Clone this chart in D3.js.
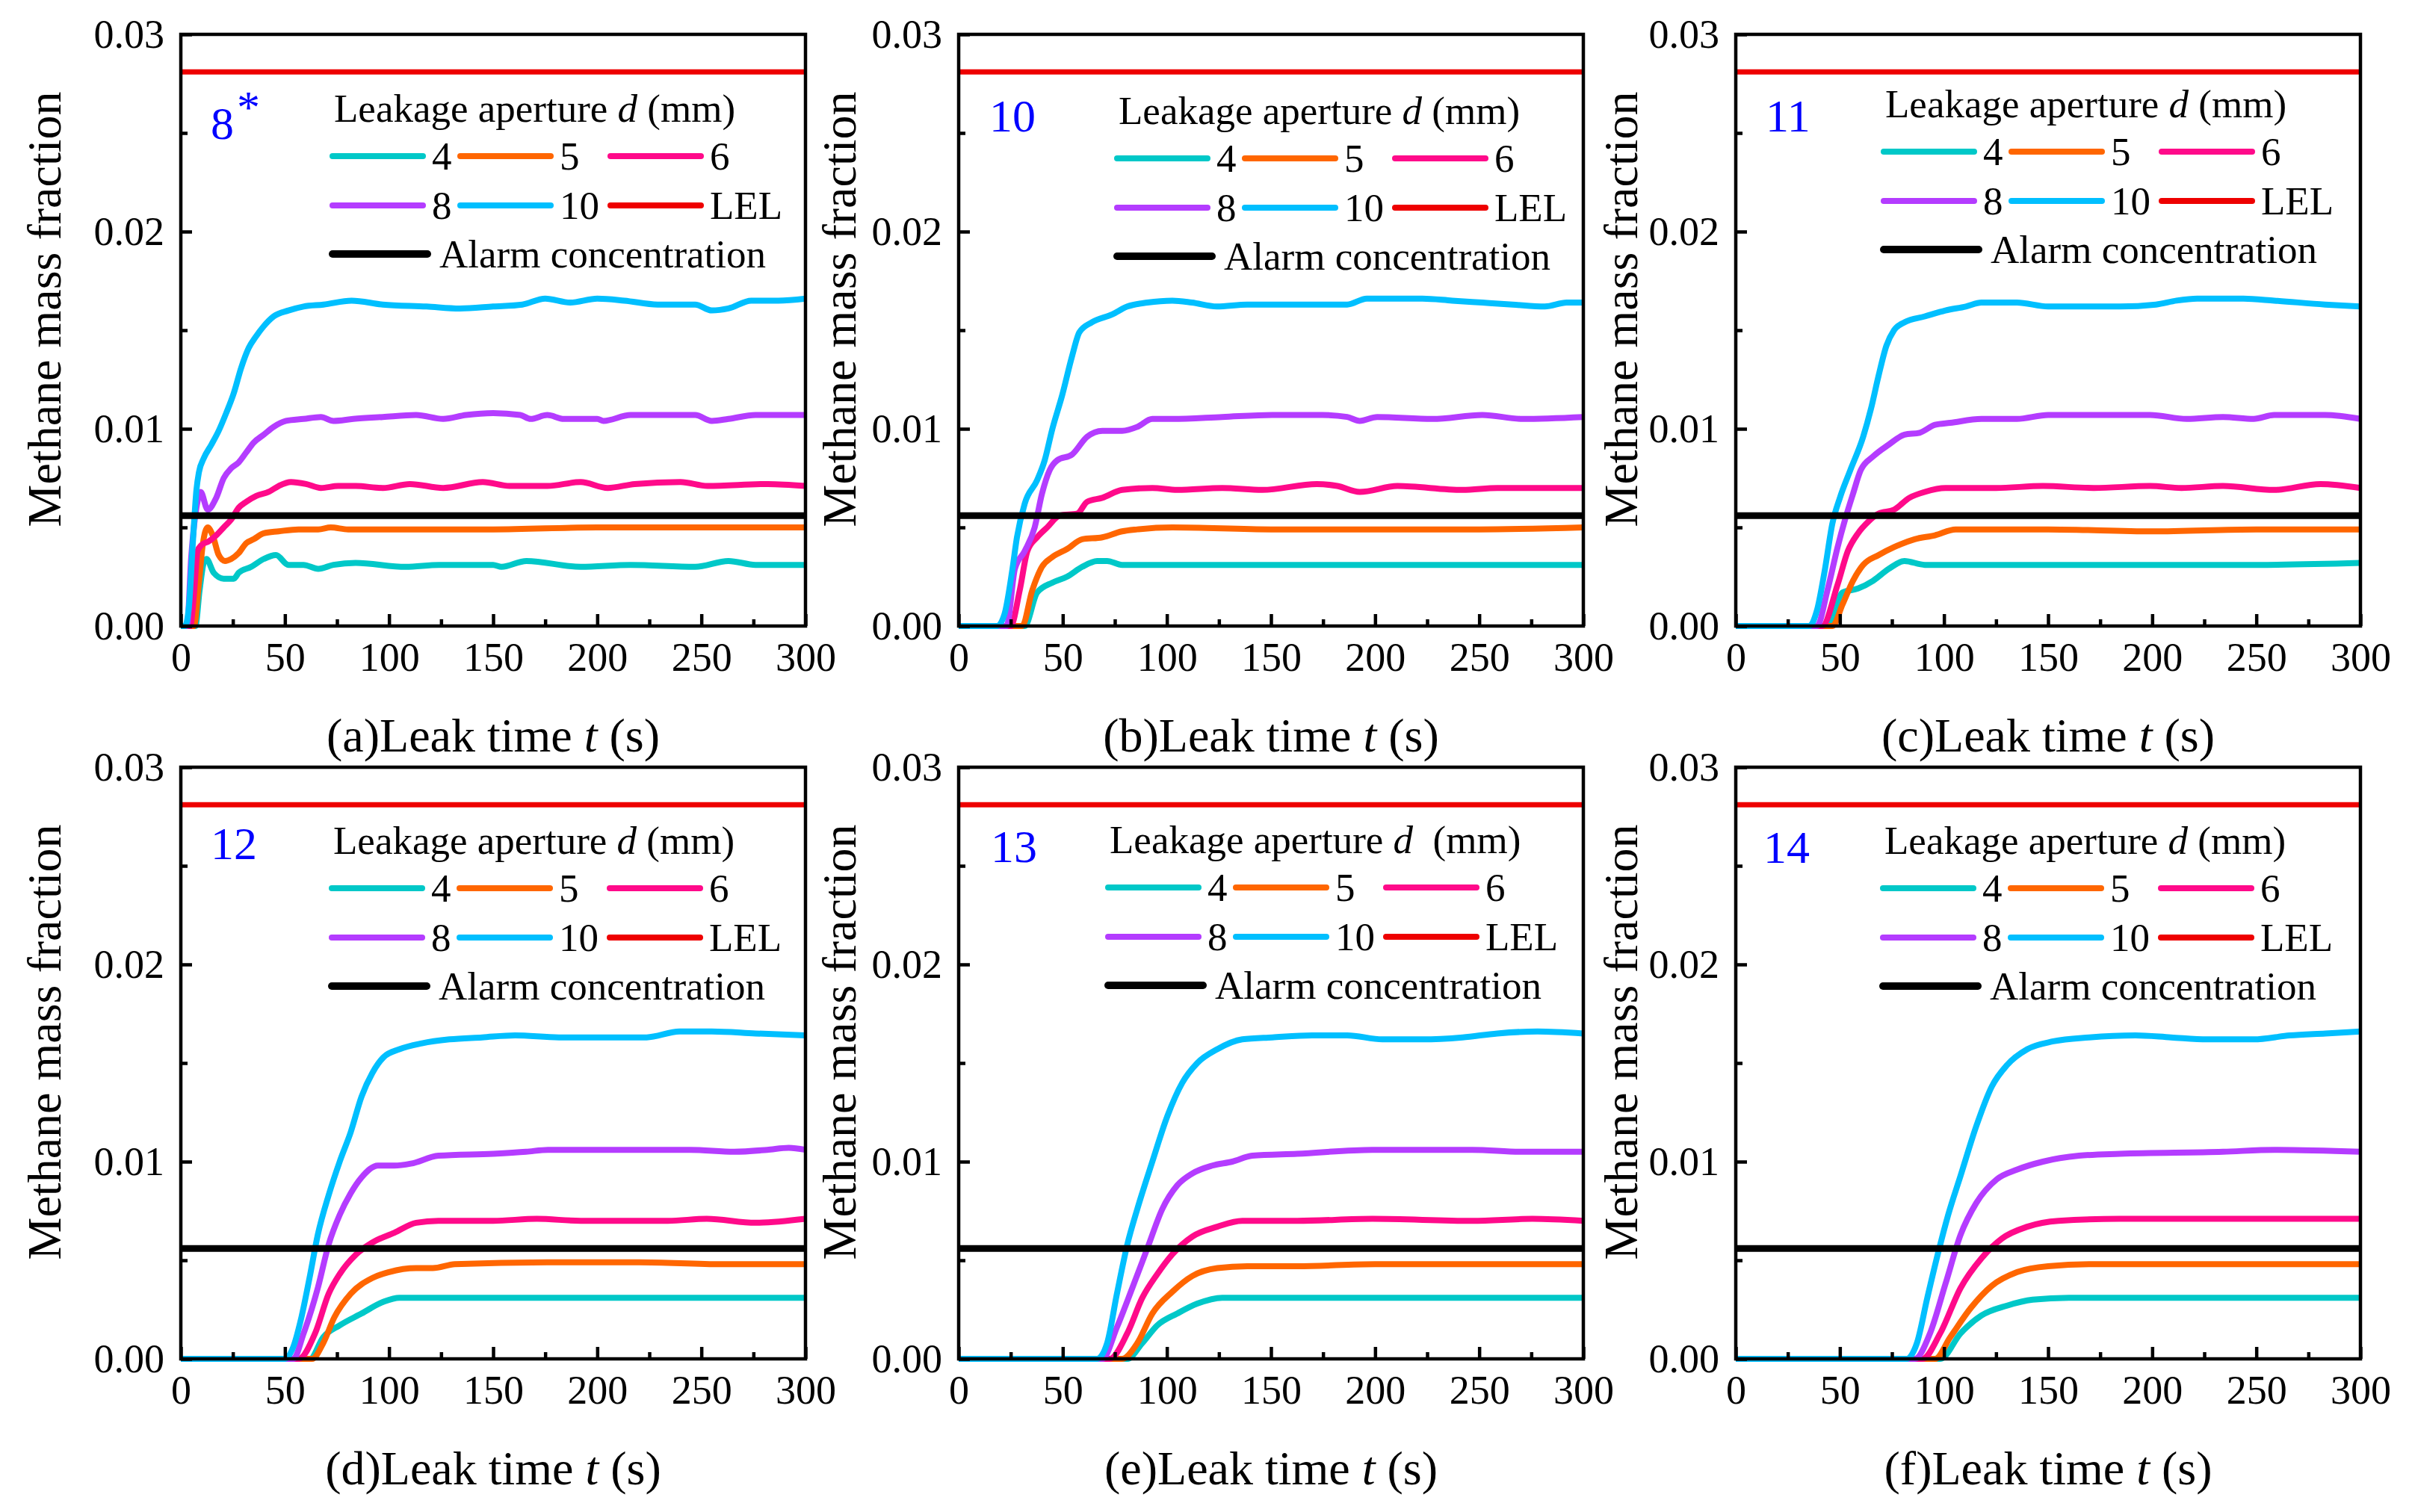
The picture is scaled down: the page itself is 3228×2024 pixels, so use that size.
<!DOCTYPE html>
<html lang="en">
<head>
<meta charset="utf-8">
<title>Methane mass fraction vs leak time</title>
<script src="https://cdn.jsdelivr.net/npm/d3@7/dist/d3.min.js"></script>
<style>
  body { margin: 0; background: #fff; }
  svg text { font-family: "Liberation Serif", "Times New Roman", serif; fill: #000; }
</style>
</head>
<body>
<svg id="vis" width="3228" height="2024"></svg>
<script>
// ---- data: [leak time (s), methane mass fraction] ----
// panel (a)
var a10 = [[0,0],[2,0],[3.9,0.0010],[5.7,0.0041],[7.5,0.0069],[8.7,0.0078],[11,0.0085],[14.7,0.0092],[18.2,0.0099],[21.8,0.0108],[25.4,0.0118],[29,0.0131],[32.6,0.0141],[36.2,0.0147],[39.8,0.0152],[44.6,0.0157],[51.7,0.0160],[58.9,0.0162],[68.5,0.0163],[82,0.0165],[97,0.0163],[118,0.0162],[134,0.0161],[150,0.0162],[164,0.0163],[175,0.0166],[187,0.0164],[200,0.0166],[213,0.0165],[229,0.0163],[247,0.0163],[255,0.0160],[263,0.0161],[274,0.0165],[287,0.0165],[300,0.0166]];
var a8 = [[0,0],[3,0],[5,0.0035],[8,0.0063],[9.5,0.0068],[12.9,0.0059],[17,0.0065],[20.6,0.0075],[24.2,0.0080],[27.8,0.0083],[31.4,0.0088],[35,0.0093],[39.8,0.0097],[44.6,0.0101],[50.5,0.0104],[58.9,0.0105],[67.3,0.0106],[73.3,0.0104],[82.8,0.0105],[97,0.0106],[113,0.0107],[126,0.0105],[137,0.0107],[150,0.0108],[163,0.0107],[168,0.0105],[176,0.0107],[184,0.0105],[200,0.0105],[203,0.0104],[216,0.0107],[234,0.0107],[247,0.0107],[255,0.0104],[263,0.0105],[276,0.0107],[300,0.0107]];
var a6 = [[0,0],[4.5,0],[6.3,0.0016],[8,0.0038],[9.9,0.0041],[13.5,0.0043],[17,0.0046],[20.6,0.0050],[24.2,0.0054],[27.8,0.0060],[31.4,0.0063],[36.2,0.0066],[42.2,0.0068],[47,0.0071],[52.9,0.0073],[60.1,0.0072],[67.3,0.0070],[75.6,0.0071],[84,0.0071],[97,0.0070],[110,0.0072],[126,0.0070],[145,0.0073],[158,0.0071],[176,0.0071],[192,0.0073],[205,0.0070],[218,0.0072],[240,0.0073],[253,0.0071],[282,0.0072],[300,0.0071]];
var a5 = [[0,0],[6.3,0],[8.7,0.0022],[10.5,0.0041],[12.9,0.0050],[15.3,0.0046],[18.2,0.0036],[21.2,0.0033],[24.2,0.0034],[27.8,0.0037],[31.4,0.0042],[35,0.0044],[39.8,0.0047],[47,0.0048],[56.5,0.0049],[66,0.0049],[72,0.0050],[80.4,0.0049],[100,0.0049],[150,0.0049],[200,0.0050],[250,0.0050],[300,0.0050]];
var a4 = [[0,0],[7,0],[9,0.0018],[11,0.0032],[12.3,0.0034],[15.8,0.0027],[20.6,0.0024],[25.4,0.0024],[27.8,0.0027],[33.8,0.0030],[39.8,0.0034],[45.7,0.0036],[51.7,0.0031],[58.9,0.0031],[66,0.0029],[73.3,0.0031],[84,0.0032],[108,0.0030],[124,0.0031],[150,0.0031],[154,0.0030],[166,0.0033],[192,0.0030],[216,0.0031],[247,0.0030],[263,0.0033],[276,0.0031],[300,0.0031]];
// panel (b)
var b10 = [[0,0],[18.5,0],[22,0.0006],[25.7,0.0028],[28,0.0045],[31.7,0.0062],[37.7,0.0074],[41.3,0.0084],[45,0.0100],[49.7,0.0117],[54.5,0.0137],[58,0.0149],[64,0.0154],[73.7,0.0158],[81,0.0162],[90.6,0.0164],[102.6,0.0165],[112,0.0164],[124,0.0162],[138.6,0.0163],[162.6,0.0163],[186.6,0.0163],[196,0.0166],[222.7,0.0166],[237,0.0165],[251.5,0.0164],[266,0.0163],[281.5,0.0162],[292,0.0164],[300,0.0164]];
var b8 = [[0,0],[23,0],[27,0.0029],[31.7,0.0038],[36.5,0.0050],[40,0.0067],[43.7,0.0079],[47.3,0.0084],[54.5,0.0087],[61.7,0.0096],[69,0.0099],[78.5,0.0099],[85.8,0.0101],[93,0.0105],[102.6,0.0105],[126.6,0.0106],[150.6,0.0107],[174.6,0.0107],[186.6,0.0106],[192.6,0.0104],[201,0.0106],[227.5,0.0105],[251.5,0.0107],[270.7,0.0105],[300,0.0106]];
var b6 = [[0,0],[25,0],[29.3,0.0018],[33,0.0038],[37.7,0.0045],[42.5,0.0050],[48.5,0.0056],[57,0.0057],[61.7,0.0063],[69,0.0065],[78.5,0.0069],[93,0.0070],[105,0.0069],[126.6,0.0070],[145.8,0.0069],[172,0.0072],[181.8,0.0071],[192.6,0.0068],[210.7,0.0071],[242,0.0069],[258.7,0.0070],[300,0.0070]];
var b5 = [[0,0],[30.5,0],[35.3,0.0018],[40,0.0030],[45,0.0035],[52,0.0039],[59.3,0.0044],[69,0.0045],[78.5,0.0048],[85.8,0.0049],[102.6,0.0050],[150,0.0049],[200,0.0049],[250,0.0049],[300,0.0050]];
var b4 = [[0,0],[31.7,0],[37.7,0.0017],[45,0.0022],[52,0.0025],[59.3,0.0030],[66.5,0.0033],[71.3,0.0033],[78.5,0.0031],[102.6,0.0031],[150,0.0031],[200,0.0031],[250,0.0031],[300,0.0031]];
// panel (c)
var c10 = [[0,0],[35.3,0],[39,0.0008],[42.7,0.0028],[46.4,0.0052],[50,0.0065],[55,0.0079],[61.2,0.0096],[64.9,0.0110],[68.6,0.0127],[72.3,0.0142],[76,0.0150],[81,0.0154],[90.8,0.0157],[100.7,0.0160],[110.5,0.0162],[118,0.0164],[135,0.0164],[150,0.0162],[184.5,0.0162],[201.8,0.0163],[211.7,0.0165],[221.6,0.0166],[243.8,0.0166],[258.6,0.0165],[283,0.0163],[300,0.0162]];
var c8 = [[0,0],[39,0],[44,0.0018],[48.9,0.0040],[52.5,0.0054],[56.3,0.0067],[60,0.0079],[66,0.0086],[73.5,0.0092],[81,0.0097],[88.3,0.0098],[95.7,0.0102],[103,0.0103],[118,0.0105],[135,0.0105],[150,0.0107],[184.5,0.0107],[199,0.0107],[216.6,0.0105],[234,0.0106],[248.7,0.0105],[258.6,0.0107],[283,0.0107],[300,0.0105]];
var c6 = [[0,0],[41.5,0],[48.9,0.0021],[53.8,0.0038],[58.7,0.0047],[63.7,0.0053],[68.6,0.0057],[76,0.0059],[83.4,0.0065],[90.8,0.0068],[100.7,0.0070],[125,0.0070],[147.5,0.0071],[172,0.0070],[199,0.0071],[214,0.0070],[234,0.0071],[258.6,0.0069],[280.8,0.0072],[300,0.0070]];
var c5 = [[0,0],[46.4,0],[51.3,0.0011],[56.3,0.0023],[61.2,0.0031],[68.6,0.0036],[76,0.0040],[85.9,0.0044],[95.7,0.0046],[105.6,0.0049],[150,0.0049],[200,0.0048],[250,0.0049],[300,0.0049]];
var c4 = [[0,0],[44,0],[51.3,0.0017],[58.7,0.0019],[66,0.0023],[73.5,0.0029],[81,0.0033],[90.8,0.0031],[150,0.0031],[200,0.0031],[250,0.0031],[300,0.0032]];
// panel (d)
var d10 = [[0,0],[50,0],[54,0.0006],[57.9,0.0021],[61.8,0.0041],[65.8,0.0063],[71,0.0083],[76.3,0.0100],[81.6,0.0115],[86.8,0.0133],[92,0.0145],[97.4,0.0153],[105,0.0157],[115.8,0.0160],[129,0.0162],[144.7,0.0163],[160.5,0.0164],[181.6,0.0163],[202.6,0.0163],[223.7,0.0163],[239.5,0.0166],[255,0.0166],[276,0.0165],[300,0.0164]];
var d8 = [[0,0],[54,0],[59,0.0013],[65.8,0.0036],[71,0.0058],[76.3,0.0073],[81.6,0.0084],[86.8,0.0092],[94.7,0.0098],[102.6,0.0098],[110.5,0.0099],[123.7,0.0103],[150,0.0104],[165.8,0.0105],[176.3,0.0106],[202.6,0.0106],[229,0.0106],[244.7,0.0106],[265.8,0.0105],[281.6,0.0106],[292,0.0107],[300,0.0106]];
var d6 = [[0,0],[56.6,0],[64.5,0.0013],[71,0.0033],[76.3,0.0043],[84.2,0.0053],[92,0.0059],[102.6,0.0064],[113,0.0069],[123.7,0.0070],[150,0.0070],[171,0.0071],[192,0.0070],[215.8,0.0070],[234,0.0070],[252.6,0.0071],[276,0.0069],[300,0.0071]];
var d5 = [[0,0],[63,0],[68.4,0.0008],[73.7,0.0021],[81.6,0.0033],[92,0.0041],[100,0.0044],[113,0.0046],[121,0.0046],[131.6,0.0048],[176,0.0049],[220,0.0049],[260,0.0048],[300,0.0048]];
var d4 = [[0,0],[62,0],[68.4,0.0011],[76.3,0.0017],[86.8,0.0023],[97.4,0.0029],[105,0.0031],[123.7,0.0031],[150,0.0031],[200,0.0031],[250,0.0031],[300,0.0031]];
// panel (e)
var e10 = [[0,0],[66.5,0],[71.3,0.0008],[76,0.0033],[81,0.0058],[85.8,0.0076],[93,0.0100],[100.2,0.0123],[107.4,0.0140],[114.6,0.0150],[124.2,0.0157],[136.2,0.0162],[150.6,0.0163],[169.8,0.0164],[186.6,0.0164],[203.5,0.0162],[222.7,0.0162],[242,0.0163],[258.7,0.0165],[278,0.0166],[300,0.0165]];
var e8 = [[0,0],[69,0],[76,0.0016],[83.4,0.0036],[90.6,0.0056],[97.8,0.0076],[105,0.0088],[112.2,0.0094],[121.8,0.0098],[131.4,0.0100],[141,0.0103],[162.6,0.0104],[198.7,0.0106],[246.7,0.0106],[270.7,0.0105],[300,0.0105]];
var e6 = [[0,0],[72.5,0],[81,0.0013],[88.2,0.0031],[95.4,0.0043],[102.6,0.0053],[112.2,0.0062],[124.2,0.0067],[136.2,0.0070],[162.6,0.0070],[198.7,0.0071],[246.7,0.0070],[275.5,0.0071],[300,0.0070]];
var e5 = [[0,0],[78.5,0],[85.8,0.0008],[93,0.0023],[102.6,0.0034],[112.2,0.0042],[124.2,0.0046],[138.6,0.0047],[162.6,0.0047],[200,0.0048],[250,0.0048],[300,0.0048]];
var e4 = [[0,0],[81,0],[88.2,0.0008],[95.4,0.0017],[105,0.0023],[114.6,0.0028],[126.6,0.0031],[150.6,0.0031],[200,0.0031],[250,0.0031],[300,0.0031]];
// panel (f)
var f10 = [[0,0],[82,0],[87,0.0008],[92,0.0031],[97,0.0053],[102,0.0073],[108,0.0093],[115.5,0.0118],[122.9,0.0138],[130.3,0.0149],[140,0.0157],[152.5,0.0161],[169.7,0.0163],[192,0.0164],[209,0.0163],[226.5,0.0162],[248.7,0.0162],[266,0.0164],[283.2,0.0165],[300,0.0166]];
var f8 = [[0,0],[86,0],[93.3,0.0013],[100.7,0.0038],[108,0.0063],[115.5,0.0079],[125.3,0.0091],[135.2,0.0096],[147.5,0.0100],[164.8,0.0103],[184.5,0.0104],[234,0.0105],[258.6,0.0106],[300,0.0105]];
var f6 = [[0,0],[89.6,0],[98.2,0.0013],[108,0.0036],[118,0.0051],[127.8,0.0061],[140,0.0067],[155,0.0070],[184.5,0.0071],[221.6,0.0071],[258.6,0.0071],[300,0.0071]];
var f5 = [[0,0],[95.7,0],[103,0.0011],[113,0.0026],[122.9,0.0037],[135.2,0.0044],[150,0.0047],[172,0.0048],[220,0.0048],[260,0.0048],[300,0.0048]];
var f4 = [[0,0],[98.2,0],[108,0.0013],[118,0.0022],[130.3,0.0027],[142.6,0.0030],[160,0.0031],[200,0.0031],[250,0.0031],[300,0.0031]];

var apertures = ["4", "5", "6", "8", "10"];
var panelLetters = ["a", "b", "c", "d", "e", "f"];
var panelTags = ["8", "10", "11", "12", "13", "14"];
var tagStar = [true, false, false, false, false, false];
var xTicks = [0, 50, 100, 150, 200, 250, 300];
var xMinor = [25, 75, 125, 175, 225, 275];
var yTicks = [0, 0.01, 0.02, 0.03];
var yMinor = [0.005, 0.015, 0.025];
var LEL = 0.0281;
var ALARM = 0.0056;

var series = [
  [a4, a5, a6, a8, a10],
  [b4, b5, b6, b8, b10],
  [c4, c5, c6, c8, c10],
  [d4, d5, d6, d8, d10],
  [e4, e5, e6, e8, e10],
  [f4, f5, f6, f8, f10]
];

// ---- styling / layout ----
var colors = ["#00C8C8", "#FF6600", "#FF0A8A", "#B43CFF", "#00BFFF"];
var lelColor = "#EE0000";
var W = 836, H = 792;
var colX = [242, 1283, 2323];
var rowY = [46, 1027];
var yTitleDx = [-161, -138, -132];
// tag position and legend origin, relative to each plot's top-left corner
var tagPos = [[40, 140], [41, 130], [40, 130], [40, 123], [43, 127], [37, 128]];
var legPos = [[203, 117], [212, 120], [198, 111], [202, 116], [200, 115], [197, 116]];
var legRows = [46, 112, 177];
var legCols = [0, 171, 372];
var legLine = 121;

var FONT = '"Liberation Serif", "Times New Roman", serif';
var svg = d3.select("#vis");
svg.append("rect").attr("width", 3228).attr("height", 2024).attr("fill", "#fff");

var x = d3.scaleLinear().domain([0, 300]).range([0, W]);
var y = d3.scaleLinear().domain([0, 0.03]).range([H, 0]);
var line = d3.line()
  .x(function(d) { return x(d[0]); })
  .y(function(d) { return y(d[1]); })
  .curve(d3.curveMonotoneX);

function styleAxis(sel, fs) {
  sel.attr("font-family", FONT).attr("font-size", fs);
  sel.select(".domain").remove();
  sel.selectAll(".tick line").attr("stroke", "#000").attr("stroke-width", 4.5);
  sel.selectAll(".tick text").attr("fill", "#000");
}

for (var p = 0; p < 6; p++) {
  var col = p % 3, row = Math.floor(p / 3);
  var g = svg.append("g").attr("transform", "translate(" + colX[col] + "," + rowY[row] + ")");

  // curves
  var gLines = g.append("g");
  for (var s = 0; s < apertures.length; s++) {
    gLines.append("path")
      .attr("d", line(series[p][s]))
      .attr("fill", "none")
      .attr("stroke", colors[s])
      .attr("stroke-width", 8)
      .attr("stroke-linejoin", "round");
  }
  // LEL and alarm levels
  g.append("line").attr("x1", 0).attr("x2", W).attr("y1", y(LEL)).attr("y2", y(LEL))
    .attr("stroke", lelColor).attr("stroke-width", 7);
  g.append("line").attr("x1", 0).attr("x2", W).attr("y1", y(ALARM)).attr("y2", y(ALARM))
    .attr("stroke", "#000").attr("stroke-width", 9);

  // axes, ticks inward
  var gx = g.append("g").attr("transform", "translate(0," + H + ")")
    .call(d3.axisBottom(x).tickValues(xTicks).tickSize(-16).tickPadding(22));
  styleAxis(gx, 54);
  var gxm = g.append("g").attr("transform", "translate(0," + H + ")")
    .call(d3.axisBottom(x).tickValues(xMinor).tickSize(-9).tickFormat(""));
  styleAxis(gxm, 54);
  var gy = g.append("g")
    .call(d3.axisLeft(y).tickValues(yTicks).tickSize(-15).tickPadding(22).tickFormat(d3.format(".2f")));
  styleAxis(gy, 54);
  var gym = g.append("g")
    .call(d3.axisLeft(y).tickValues(yMinor).tickSize(-9).tickFormat(""));
  styleAxis(gym, 54);

  g.append("rect").attr("width", W).attr("height", H)
    .attr("fill", "none").attr("stroke", "#000").attr("stroke-width", 4.5);

  // axis titles
  var xt = g.append("text").attr("x", W / 2).attr("y", H + 168)
    .attr("text-anchor", "middle").attr("font-size", 64);
  xt.append("tspan").text("(" + panelLetters[p] + ")Leak time ");
  xt.append("tspan").attr("font-style", "italic").text("t");
  xt.append("tspan").text(" (s)");

  g.append("text")
    .attr("transform", "translate(" + yTitleDx[col] + ",368) rotate(-90)")
    .attr("text-anchor", "middle").attr("font-size", 64)
    .text("Methane mass fraction");

  // panel tag
  var tg = g.append("text").attr("x", tagPos[p][0]).attr("y", tagPos[p][1])
    .attr("font-size", 62).style("fill", "#0000FF");
  tg.append("tspan").text(panelTags[p]);
  if (tagStar[p]) tg.append("tspan").attr("dy", -22).attr("dx", 4).text("*");

  // legend
  var lx = legPos[p][0], ly = legPos[p][1];
  var lg = g.append("g").attr("transform", "translate(" + lx + "," + ly + ")");
  var hd = lg.append("text").attr("x", 2).attr("y", 0).attr("font-size", 53)
    .style("white-space", "pre");
  hd.append("tspan").text("Leakage aperture ");
  hd.append("tspan").attr("font-style", "italic").text("d");
  hd.append("tspan").text(p === 4 ? "  (mm)" : " (mm)");

  var entries = apertures.map(function(a, i) { return { label: a, color: colors[i] }; });
  entries.push({ label: "LEL", color: lelColor });
  entries.forEach(function(e, i) {
    var ex = legCols[i % 3], ey = legRows[Math.floor(i / 3)];
    lg.append("line").attr("x1", ex).attr("x2", ex + legLine).attr("y1", ey).attr("y2", ey)
      .attr("stroke", e.color).attr("stroke-width", 8).attr("stroke-linecap", "round");
    lg.append("text").attr("x", ex + legLine + 12).attr("y", ey).attr("dy", "0.34em")
      .attr("font-size", 53).text(e.label);
  });
  lg.append("line").attr("x1", 0).attr("x2", 127).attr("y1", legRows[2]).attr("y2", legRows[2])
    .attr("stroke", "#000").attr("stroke-width", 10).attr("stroke-linecap", "round");
  lg.append("text").attr("x", 143).attr("y", legRows[2]).attr("dy", "0.34em")
    .attr("font-size", 53).text("Alarm concentration");
}
</script>
</body>
</html>
